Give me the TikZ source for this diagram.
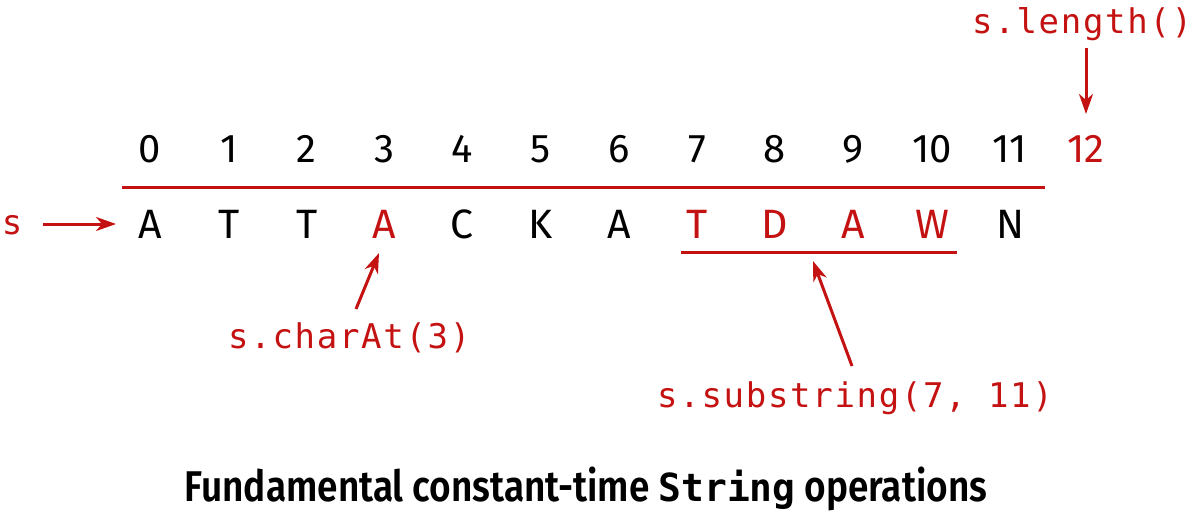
\documentclass[tikz,border=0pt]{standalone}
\usepackage{fontspec}
\setmainfont{Fira Sans}
\newfontfamily\codefont[LetterSpace=5]{DejaVu Sans Mono}
\newfontfamily\capfont[FakeStretch=0.86]{Fira Sans SemiBold}
\newfontfamily\capcode[FakeStretch=0.98,Scale=0.9]{DejaVu Sans Mono Bold}
\usetikzlibrary{arrows.meta}
\definecolor{sred}{RGB}{196,18,18}
\tikzset{
  idx/.style={anchor=base, inner sep=0pt, font=\fontsize{40}{44}\selectfont},
  chr/.style={anchor=base, inner sep=0pt, font=\fontsize{41}{44}\selectfont},
  code/.style={anchor=base west, inner sep=0pt, text=sred, font=\codefont\fontsize{34}{38}\selectfont},
  rule/.style={draw=sred, line width=3pt},
  arr/.style={draw=sred, line width=3pt, -{Stealth[length=20pt,width=14pt,inset=6pt]}},
}
\begin{document}
\begin{tikzpicture}[x=1pt,y=-1pt]
\useasboundingbox (0,0) rectangle (1200,514);
% indices
\foreach \i/\x in {0/150,1/229,2/306,3/384,4/462,5/541,6/619,7/697,8/775,9/853,10/932,11/1010}{
  \node[idx] (d\i) at (\x,162) {\i};
}
\node[idx, text=sred] (d12) at (1086,162) {12};
% characters
\foreach \i/\x/\c/\col in {0/150/A/black,1/229/T/black,2/307/T/black,3/384/A/sred,4/462/C/black,5/541/K/black,6/619/A/black,7/697/T/sred,8/775/D/sred,9/853/A/sred,10/932/W/sred,11/1010/N/black}{
  \node[chr, text=\col] (c\i) at (\x,238) {\c};
}
% rules
\coordinate (r1) at (122,187);
\coordinate (r2) at (1045,187);
\draw[rule] (r1) -- (r2);
\coordinate (u1) at (681,252);
\coordinate (u2) at (957,252);
\draw[rule] (u1) -- (u2);
% s label
\node[code, anchor=base] (s) at (12,234) {s};
\coordinate (sa1) at (43,224);
\coordinate (sa2) at (116,224);
\draw[arr] (sa1) -- (sa2);
% length
\node[code] (len) at (972,33) {s.length()};
\coordinate (la1) at (1086,48);
\coordinate (la2) at (1086,114);
\draw[arr] (la1) -- (la2);
% charAt
\node[code] (charat) at (228,348) {s.charAt(3)};
\coordinate (ca1) at (356,309);
\coordinate (ca2) at (379,253);
\draw[arr] (ca1) -- (ca2);
% substring
\node[code] (sub) at (657,407) {s.substring(7, 11)};
\coordinate (sb1) at (852,366);
\coordinate (sb2) at (813,261);
\draw[arr] (sb1) -- (sb2);
% caption
\node[anchor=base, inner sep=0pt, font=\fontsize{43}{48}\selectfont] (cap) at (586,501)
  {\capfont Fundamental constant-time \capcode String\capfont{} operations};
\end{tikzpicture}
\end{document}
